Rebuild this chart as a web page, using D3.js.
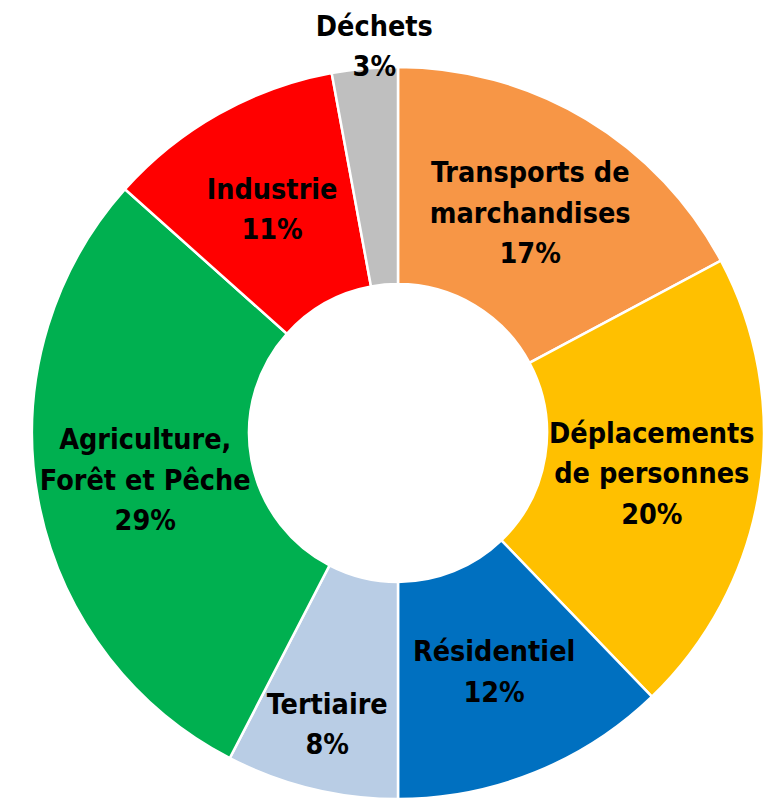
<!DOCTYPE html>
<html>
<head>
<meta charset="utf-8">
<script src="https://cdn.jsdelivr.net/npm/d3@7"></script>
<style>
  body { margin: 0; background: #fff; }
  .lbl { font-family: "DejaVu Sans Condensed", "DejaVu Sans", sans-serif; font-stretch: condensed; font-weight: bold; font-size: 28.5px; fill: #000; }
</style>
</head>
<body>
<div class="donutViz"></div>
<script>
// sectors, clockwise from 12 o'clock
var sectors = [
  ["Transports de", "marchandises"],
  ["Déplacements", "de personnes"],
  ["Résidentiel"],
  ["Tertiaire"],
  ["Agriculture,", "Forêt et Pêche"],
  ["Industrie"],
  ["Déchets"]
];
var shares = [17.2, 20.6, 12.2, 7.6, 29.0, 10.5, 2.9];
var shareLabels = ["17%", "20%", "12%", "8%", "29%", "11%", "3%"];
var colors = ["#f79646", "#ffc000", "#0070c0", "#b9cde5", "#00b050", "#ff0000", "#bfbfbf"];

var width = 767,
    height = 798,
    cx = 398,
    cy = 433,
    outerR = 366,
    innerR = 149,
    labelR = 257,
    lineH = 40.5;

// a few labels are pushed away from the default centroid
var labelShift = { 3: { r: 299, da: 0 }, 6: { r: 388, da: 0.03 } };

var svg = d3.select(".donutViz").append("svg")
    .attr("width", width)
    .attr("height", height);

var g = svg.append("g")
    .attr("transform", "translate(" + cx + "," + cy + ")");

var pie = d3.pie().sort(null).value(function(d){ return d; });
var arcs = pie(shares);

var arc = d3.arc().innerRadius(innerR).outerRadius(outerR);

g.selectAll("path")
  .data(arcs)
  .enter()
  .append("path")
    .attr("d", arc)
    .style("fill", function(d, i){ return colors[i]; })
    .style("stroke", "#fff")
    .style("stroke-width", 2.5);

var labels = g.selectAll("text.lbl")
  .data(arcs)
  .enter()
  .append("text")
    .attr("class", "lbl")
    .style("text-anchor", "middle")
    .each(function(d, i){
      var s = labelShift[i] || { r: labelR, da: 0 };
      var a = (d.startAngle + d.endAngle) / 2 + s.da;
      var x = Math.sin(a) * s.r,
          y = -Math.cos(a) * s.r;
      var lines = sectors[i].concat([shareLabels[i]]);
      var t = d3.select(this);
      lines.forEach(function(line, k){
        t.append("tspan")
          .attr("x", x)
          .attr("y", y + (k - (lines.length - 1) / 2) * lineH)
          .attr("dy", "0.36em")
          .text(line);
      });
    });
</script>
</body>
</html>
